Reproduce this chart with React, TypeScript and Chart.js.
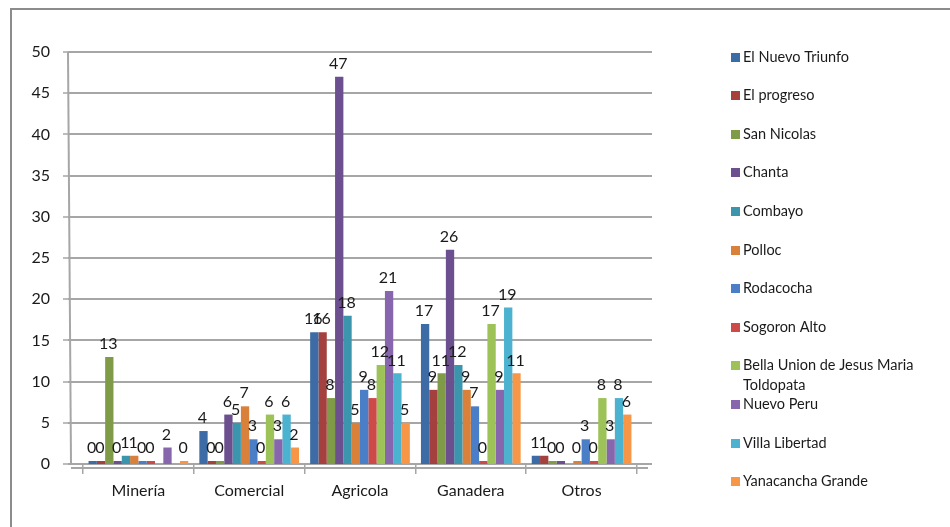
import React, { useEffect, useRef } from "react";
import { Chart, registerables } from "chart.js";

Chart.register(...registerables);

const categories = ["Minería", "Comercial", "Agricola", "Ganadera", "Otros"];

const seriesNames = [
  "El Nuevo Triunfo",
  "El progreso",
  "San Nicolas",
  "Chanta",
  "Combayo",
  "Polloc",
  "Rodacocha",
  "Sogoron Alto",
  "Bella Union de Jesus Maria Toldopata",
  "Nuevo Peru",
  "Villa Libertad",
  "Yanacancha Grande",
];

const seriesColors = [
  "#3D6BA5",
  "#A4403D",
  "#7F9B47",
  "#6B4F8E",
  "#3B96AD",
  "#D9803A",
  "#4A7FC8",
  "#CC4B48",
  "#9CC258",
  "#8766AE",
  "#4BB2CF",
  "#F79646",
];

const elNuevoTriunfo = [0, 4, 16, 17, 1];
const elProgreso = [0, 0, 16, 9, 1];
const sanNicolas = [13, 0, 8, 11, 0];
const chanta = [0, 6, 47, 26, 0];
const combayo = [1, 5, 18, 12, null];
const polloc = [1, 7, 5, 9, 0];
const rodacocha = [0, 3, 9, 7, 3];
const sogoronAlto = [0, 0, 8, 0, 0];
const bellaUnion = [null, 6, 12, 17, 8];
const nuevoPeru = [2, 3, 21, 9, 3];
const villaLibertad = [null, 6, 11, 19, 8];
const yanacanchaGrande = [0, 2, 5, 11, 6];

const seriesValues = [
  elNuevoTriunfo,
  elProgreso,
  sanNicolas,
  chanta,
  combayo,
  polloc,
  rodacocha,
  sogoronAlto,
  bellaUnion,
  nuevoPeru,
  villaLibertad,
  yanacanchaGrande,
];

const yTicks = [0, 5, 10, 15, 20, 25, 30, 35, 40, 45, 50];

const FONT = "Lato, 'Open Sans', sans-serif";

const backgroundPlugin = {
  id: "bgFrameGrid",
  beforeDraw(chart: any) {
    const ctx = chart.ctx;
    const { left, right, top, bottom } = chart.chartArea;
    const y = chart.scales.y;
    ctx.save();
    ctx.fillStyle = "#ffffff";
    ctx.fillRect(0, 0, chart.width, chart.height);
    // outer frame (top & left visible)
    ctx.strokeStyle = "#8c8c8c";
    ctx.lineWidth = 2;
    ctx.beginPath();
    ctx.moveTo(11, chart.height);
    ctx.lineTo(11, 9);
    ctx.lineTo(chart.width, 9);
    ctx.stroke();
    // grid lines
    ctx.strokeStyle = "#a6a6a6";
    ctx.lineWidth = 2;
    const gl = left - 15;
    const gr = right + 15;
    yTicks.forEach((v) => {
      const py = Math.round(y.getPixelForValue(v));
      ctx.beginPath();
      ctx.moveTo(gl, py);
      ctx.lineTo(gr, py);
      ctx.stroke();
      ctx.beginPath();
      ctx.lineWidth = 1.5;
      ctx.moveTo(gl - 5, py);
      ctx.lineTo(gl, py);
      ctx.stroke();
      ctx.lineWidth = 2;
    });
    // y axis line
    ctx.beginPath();
    ctx.moveTo(gl, top);
    ctx.lineTo(gl + 3, bottom);
    ctx.stroke();
    // floor front edge
    ctx.beginPath();
    ctx.moveTo(gl + 3, bottom + 4);
    ctx.lineTo(gr - 4, bottom + 4);
    ctx.stroke();
    ctx.restore();
  },
};

const labelPlugin = {
  id: "valueLabels",
  afterDatasetsDraw(chart: any) {
    const ctx = chart.ctx;
    ctx.save();
    ctx.font = `16px ${FONT}`;
    ctx.fillStyle = "#1a1a1a";
    ctx.textAlign = "center";
    ctx.textBaseline = "bottom";
    chart.data.datasets.forEach((ds: any, i: number) => {
      const meta = chart.getDatasetMeta(i);
      meta.data.forEach((bar: any, j: number) => {
        const v = ds.data[j];
        if (v === null || v === undefined) return;
        ctx.fillText(String(v), bar.x - 1, bar.y - 5);
      });
    });
    ctx.restore();
  },
};

function wrapText(ctx: CanvasRenderingContext2D, text: string, maxW: number) {
  const words = text.split(" ");
  const lines: string[] = [];
  let cur = "";
  words.forEach((w) => {
    const test = cur ? cur + " " + w : w;
    if (ctx.measureText(test).width > maxW && cur) {
      lines.push(cur);
      cur = w;
    } else {
      cur = test;
    }
  });
  if (cur) lines.push(cur);
  return lines;
}

const legendPlugin = {
  id: "sideLegend",
  afterDraw(chart: any) {
    const ctx = chart.ctx;
    ctx.save();
    ctx.font = `14.5px ${FONT}`;
    ctx.textAlign = "left";
    ctx.textBaseline = "middle";
    chart.data.datasets.forEach((ds: any, i: number) => {
      const cy = 57 + i * 38.6;
      ctx.fillStyle = ds.backgroundColor;
      ctx.fillRect(731, Math.round(cy - 4.5), 9, 9);
      ctx.fillStyle = "#1a1a1a";
      const lines = wrapText(ctx, ds.label, 185);
      lines.forEach((ln, k) => {
        ctx.fillText(ln, 743, cy + k * 20);
      });
    });
    ctx.restore();
  },
};

export default function App() {
  const ref = useRef<HTMLCanvasElement | null>(null);

  useEffect(() => {
    if (!ref.current) return;
    const chart = new Chart(ref.current, {
      type: "bar",
      data: {
        labels: categories,
        datasets: seriesNames.map((name, i) => ({
          label: name,
          data: seriesValues[i],
          backgroundColor: seriesColors[i],
          borderWidth: 0,
          categoryPercentage: 0.9,
          barPercentage: 1.0,
          minBarLength: 3,
        })),
      },
      options: {
        responsive: false,
        animation: false,
        events: [],
        layout: { padding: { top: 52, right: 313, bottom: 0, left: 0 } },
        plugins: {
          legend: { display: false },
          tooltip: { enabled: false },
          title: { display: false },
        },
        scales: {
          x: {
            grid: {
              display: true,
              offset: true,
              drawOnChartArea: false,
              drawTicks: true,
              tickLength: 10,
              color: "#a6a6a6",
              lineWidth: 1.5,
            },
            border: { display: false },
            ticks: {
              color: "#1a1a1a",
              font: { family: FONT, size: 16 },
              padding: 7,
            },
            afterFit(scale: any) {
              scale.height = 63;
            },
          },
          y: {
            min: 0,
            max: 50,
            grid: { display: false, drawTicks: false },
            border: { display: false },
            afterBuildTicks(scale: any) {
              scale.ticks = yTicks.map((v) => ({ value: v }));
            },
            ticks: {
              color: "#1a1a1a",
              font: { family: FONT, size: 16 },
              padding: 33,
            },
            afterFit(scale: any) {
              scale.width = 83;
            },
          },
        },
      },
      plugins: [backgroundPlugin, labelPlugin, legendPlugin],
    });
    return () => chart.destroy();
  }, []);

  return (
    <div style={{ position: "fixed", left: 0, top: 0, width: 950, height: 527, background: "#fff" }}>
      <canvas ref={ref} width={950} height={527} />
    </div>
  );
}
